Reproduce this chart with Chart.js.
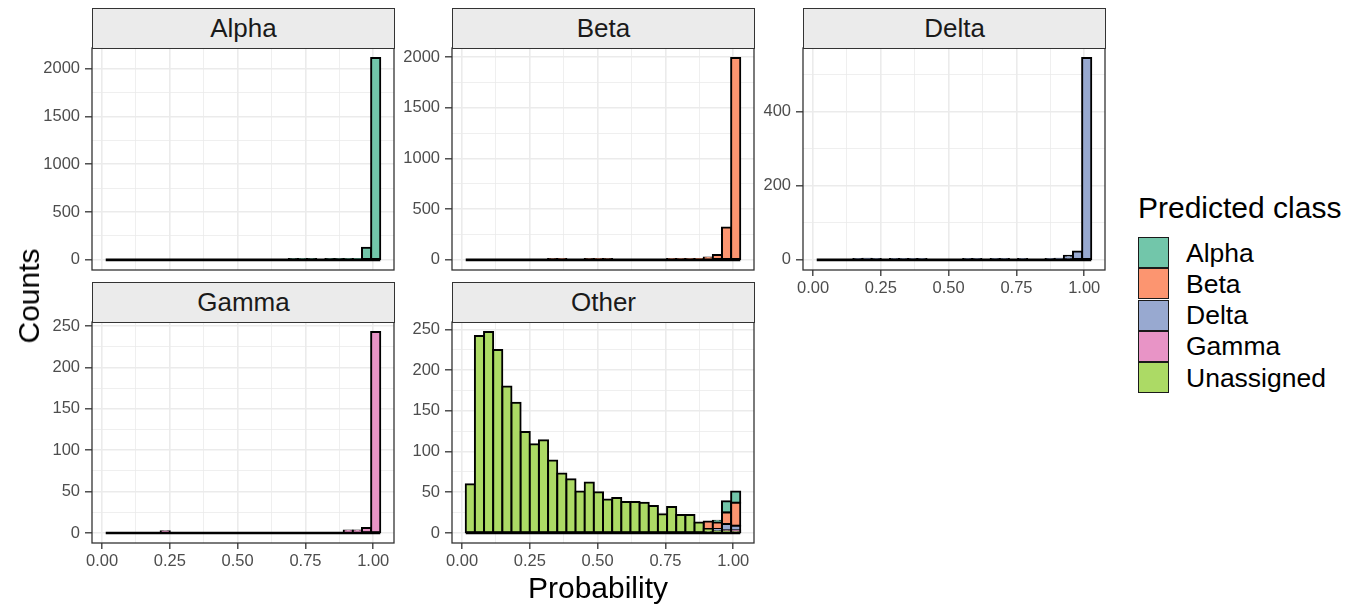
<!DOCTYPE html>
<html>
<head>
<meta charset="utf-8">
<script src="https://cdn.jsdelivr.net/npm/chart.js@4.4.1/dist/chart.umd.min.js"></script>
<style>
  body { margin: 0; width: 1350px; height: 608px; background: #fff; position: relative; overflow: hidden;
         font-family: "Liberation Sans", Arial, sans-serif; }
  canvas { position: absolute; }
  .strip { position: absolute; background: #ebebeb; border: 1.3px solid #333; box-sizing: border-box;
           text-align: center; font-size: 26px; color: #1a1a1a; }
  .title { position: absolute; font-size: 30px; color: #000; white-space: nowrap; }
  .legend-key { position: absolute; width: 31px; height: 31px; box-sizing: border-box; border: 1.5px solid #1a1a1a; }
  .legend-label { position: absolute; font-size: 26.5px; color: #000; white-space: nowrap; }
</style>
</head>
<body>
<script>
// Histogram bins (30 bins, shared x)
const binCenters = [0.0304, 0.0641, 0.0979, 0.1316, 0.1654, 0.1991, 0.2329, 0.2666, 0.3004, 0.3341,
                    0.3679, 0.4016, 0.4354, 0.4691, 0.5029, 0.5366, 0.5704, 0.6041, 0.6379, 0.6716,
                    0.7054, 0.7391, 0.7729, 0.8066, 0.8404, 0.8741, 0.9079, 0.9416, 0.9754, 1.0091];

// Counts per facet
const alphaCounts = [0, 0, 0, 0, 0, 0, 0, 0, 0, 0, 0, 0, 0, 0, 0, 0, 0, 0, 0, 0,
                     2, 3, 2, 0, 1, 2, 4, 10, 126, 2110];
const betaCounts  = [0, 0, 0, 0, 0, 0, 0, 0, 0, 2, 3, 0, 0, 2, 3, 2, 0, 0, 0, 0,
                     0, 0, 3, 4, 6, 8, 23, 49, 320, 1990];
const deltaCounts = [0, 0, 0, 0, 2, 3, 1, 0, 2, 2, 2, 2, 0, 0, 0, 0, 2, 2, 0, 1,
                     1, 0, 2, 0, 0, 1, 3, 11, 23, 545];
const gammaCounts = [0, 0, 0, 0, 0, 0, 2, 0, 0, 0, 0, 0, 0, 0, 0, 0, 0, 0, 0, 0,
                     0, 0, 0, 0, 0, 0, 3, 3, 6, 243];

// "Other" facet, stacked by predicted class
const otherUnassigned = [60, 242, 247, 225, 180, 160, 124, 109, 114, 89, 73, 66, 51, 62, 50, 41, 43, 38, 38, 37,
                         33, 23, 32, 22, 22, 13, 5, 2, 2, 1];
const otherGamma = [0, 0, 0, 0, 0, 0, 0, 0, 0, 0, 0, 0, 0, 0, 0, 0, 0, 0, 0, 0,
                    0, 0, 0, 0, 0, 0, 0, 0, 1, 2];
const otherDelta = [0, 0, 0, 0, 0, 0, 0, 0, 0, 0, 0, 0, 0, 0, 0, 0, 0, 0, 0, 0,
                    0, 0, 0, 0, 0, 0, 0, 3, 8, 6];
const otherBeta  = [0, 0, 0, 0, 0, 0, 0, 0, 0, 0, 0, 0, 0, 0, 0, 0, 0, 0, 0, 0,
                    0, 0, 0, 0, 0, 0, 9, 8, 14, 28];
const otherAlpha = [0, 0, 0, 0, 0, 0, 0, 0, 0, 0, 0, 0, 0, 0, 0, 0, 0, 0, 0, 0,
                    0, 0, 0, 0, 0, 0, 0, 2, 14, 14];

// Axis ticks
const xMajorTicks = [0, 0.25, 0.5, 0.75, 1];
const yTicksAlpha = [0, 500, 1000, 1500, 2000];
const yTicksBeta  = [0, 500, 1000, 1500, 2000];
const yTicksDelta = [0, 200, 400];
const yTicksGamma = [0, 50, 100, 150, 200, 250];
const yTicksOther = [0, 50, 100, 150, 200, 250];

const classNames = ['Alpha', 'Beta', 'Delta', 'Gamma', 'Unassigned'];
const classColors = {
    Alpha: '#72c6aa',
    Beta: '#fc9570',
    Delta: '#98a9d0',
    Gamma: '#e894c6',
    Unassigned: '#acda65'
};

// Layout
const Y_W = 60, X_H = 32, PAD_T = 14, PAD = 3, PLOT_W = 302;

const panels = [
    { name: 'Alpha', left: 92,  top: 48,  h: 222, showX: false, yTicks: yTicksAlpha,
      series: [{ label: 'Alpha', data: alphaCounts }] },
    { name: 'Beta',  left: 452, top: 48,  h: 222, showX: false, yTicks: yTicksBeta,
      series: [{ label: 'Beta', data: betaCounts }] },
    { name: 'Delta', left: 803, top: 48,  h: 222, showX: true,  yTicks: yTicksDelta,
      series: [{ label: 'Delta', data: deltaCounts }] },
    { name: 'Gamma', left: 92,  top: 322, h: 221, showX: true,  yTicks: yTicksGamma,
      series: [{ label: 'Gamma', data: gammaCounts }] },
    { name: 'Other', left: 452, top: 322, h: 221, showX: true,  yTicks: yTicksOther,
      series: [
          { label: 'Unassigned', data: otherUnassigned },
          { label: 'Gamma', data: otherGamma },
          { label: 'Delta', data: otherDelta },
          { label: 'Beta', data: otherBeta },
          { label: 'Alpha', data: otherAlpha }
      ] }
];

const halfBin = (binCenters[binCenters.length - 1] - binCenters[0]) / (binCenters.length - 1) / 2;
const binLo = binCenters[0] - halfBin;
const binHi = binCenters[binCenters.length - 1] + halfBin;
const xPad = 0.05 * (binHi - binLo);

// draws the panel frame
const framePlugin = {
    id: 'frame',
    afterDraw(chart) {
        const a = chart.chartArea, ctx = chart.ctx;
        ctx.save();
        ctx.strokeStyle = '#333333';
        ctx.lineWidth = 1.3;
        ctx.strokeRect(a.left, a.top, a.right - a.left, a.bottom - a.top);
        ctx.restore();
    }
};

function withMinor(major, lo, hi) {
    const step = major[1] - major[0];
    const out = [];
    for (let v = major[0] - step; v <= major[major.length - 1] + step + 1e-9; v += step / 2) {
        const r = Math.round(v * 1000) / 1000;
        if (r >= lo && r <= hi) out.push(r);
    }
    return out;
}

function noPadding(s) {
    s.paddingTop = 0; s.paddingBottom = 0; s.paddingLeft = 0; s.paddingRight = 0;
}

function makePanel(p) {
    const strip = document.createElement('div');
    strip.className = 'strip';
    strip.style.left = p.left + 'px';
    strip.style.top = (p.top - 40) + 'px';
    strip.style.width = (PLOT_W + 1) + 'px';
    strip.style.height = '41px';
    strip.style.lineHeight = '39px';
    strip.textContent = p.name;

    const canvas = document.createElement('canvas');
    const w = Y_W + PLOT_W + PAD;
    const h = PAD_T + p.h + (p.showX ? X_H : PAD);
    canvas.width = w;
    canvas.height = h;
    canvas.style.left = (p.left - Y_W) + 'px';
    canvas.style.top = (p.top - PAD_T) + 'px';
    document.body.appendChild(canvas);
    document.body.appendChild(strip);

    const stacked = p.series.length > 1;
    const totals = binCenters.map((_, i) => p.series.reduce((s, d) => s + d.data[i], 0));
    const yMax = Math.max(...totals);
    const yLo = -0.05 * yMax, yHi = 1.05 * yMax;
    const xLo = binLo - xPad, xHi = binHi + xPad;
    const majorY = p.yTicks;

    const datasets = p.series.map(s => ({
        type: 'bar',
        label: s.label,
        data: binCenters.map((x, i) => ({ x: x, y: s.data[i] })),
        backgroundColor: classColors[s.label],
        borderColor: '#000000',
        borderWidth: 2,
        inflateAmount: 1,
        borderSkipped: false,
        barPercentage: 1,
        categoryPercentage: 1
    }));
    // zero-count bins still show their outline along the baseline
    datasets.push({
        type: 'line',
        label: 'base',
        data: [{ x: binLo, y: 0 }, { x: binHi, y: 0 }],
        borderColor: '#000000',
        borderWidth: 2.6,
        pointRadius: 0,
        stack: 'base',
        order: -1
    });

    new Chart(canvas.getContext('2d'), {
        type: 'bar',
        data: { datasets: datasets },
        plugins: [framePlugin],
        options: {
            responsive: false,
            animation: false,
            devicePixelRatio: 1,
            layout: { padding: { left: 0, top: PAD_T, right: PAD, bottom: p.showX ? 0 : PAD } },
            plugins: { legend: { display: false }, tooltip: { enabled: false } },
            scales: {
                x: {
                    type: 'linear',
                    min: xLo, max: xHi,
                    offset: false,
                    stacked: stacked,
                    afterBuildTicks: s => { s.ticks = withMinor(xMajorTicks, xLo, xHi).map(v => ({ value: v })); },
                    afterFit: s => { s.height = p.showX ? X_H : 0; noPadding(s); },
                    border: { display: false },
                    grid: {
                        offset: false,
                        color: '#ebebeb',
                        lineWidth: c => xMajorTicks.includes(c.tick.value) ? 1.6 : 0.8,
                        drawTicks: p.showX,
                        tickLength: 6,
                        tickColor: c => xMajorTicks.includes(c.tick.value) ? '#333333' : 'rgba(0,0,0,0)',
                        tickWidth: 1.3
                    },
                    ticks: {
                        display: p.showX,
                        autoSkip: false,
                        maxRotation: 0,
                        padding: 3,
                        color: '#4d4d4d',
                        font: { family: '"Liberation Sans", Arial, sans-serif', size: 16.5 },
                        callback: v => xMajorTicks.includes(v) ? v.toFixed(2) : ''
                    }
                },
                y: {
                    type: 'linear',
                    min: yLo, max: yHi,
                    stacked: stacked,
                    afterBuildTicks: s => { s.ticks = withMinor(majorY, yLo, yHi).map(v => ({ value: v })); },
                    afterFit: s => { s.width = Y_W; noPadding(s); },
                    border: { display: false },
                    grid: {
                        color: '#ebebeb',
                        lineWidth: c => majorY.includes(c.tick.value) ? 1.6 : 0.8,
                        tickLength: 7,
                        tickColor: c => majorY.includes(c.tick.value) ? '#333333' : 'rgba(0,0,0,0)',
                        tickWidth: 1.3
                    },
                    ticks: {
                        autoSkip: false,
                        padding: 5,
                        color: '#4d4d4d',
                        font: { family: '"Liberation Sans", Arial, sans-serif', size: 16.5 },
                        callback: v => majorY.includes(v) ? String(v) : ''
                    }
                }
            }
        }
    });
}

panels.forEach(makePanel);

// Axis titles
const yTitle = document.createElement('div');
yTitle.className = 'title';
yTitle.textContent = 'Counts';
yTitle.style.left = '29px';
yTitle.style.top = '296px';
yTitle.style.transform = 'translate(-50%, -50%) rotate(-90deg)';
document.body.appendChild(yTitle);

const xTitle = document.createElement('div');
xTitle.className = 'title';
xTitle.textContent = 'Probability';
xTitle.style.left = '598px';
xTitle.style.top = '588px';
xTitle.style.transform = 'translate(-50%, -50%)';
document.body.appendChild(xTitle);

// Legend
const legTitle = document.createElement('div');
legTitle.className = 'title';
legTitle.style.fontSize = '30px';
legTitle.textContent = 'Predicted class';
legTitle.style.left = '1138px';
legTitle.style.top = '191px';
document.body.appendChild(legTitle);

classNames.forEach((name, i) => {
    const key = document.createElement('div');
    key.className = 'legend-key';
    key.style.left = '1138px';
    key.style.top = (237 + i * 31.3) + 'px';
    key.style.background = classColors[name];
    document.body.appendChild(key);

    const lab = document.createElement('div');
    lab.className = 'legend-label';
    lab.textContent = name;
    lab.style.left = '1186px';
    lab.style.top = (237 + i * 31.3 + 15.5) + 'px';
    lab.style.transform = 'translateY(-50%)';
    document.body.appendChild(lab);
});
</script>
</body>
</html>
